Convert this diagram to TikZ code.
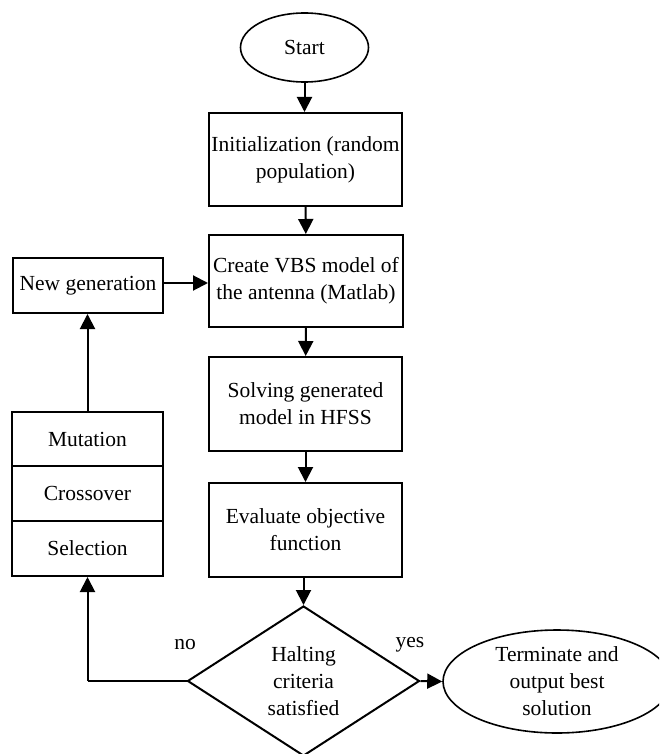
\documentclass[tikz,border=0pt]{standalone}
\usepackage{fontspec}
\setmainfont{Liberation Serif}
\usetikzlibrary{shapes.geometric,arrows.meta}
\begin{document}
\begin{tikzpicture}[x=1pt,y=1pt,
  every node/.style={font=\fontsize{21.5}{27}\selectfont, align=center, inner sep=0pt},
  box/.style={draw, line width=2pt, rectangle},
  ell/.style={draw, line width=1.6pt, ellipse},
  conn/.style={line width=2pt, -{Triangle[width=15pt,length=15pt]}},
  plain/.style={line width=2pt}]
\useasboundingbox (0,0) rectangle (659,-754);
\clip (0,0) rectangle (659,-754);
\node[ell, minimum width=128pt, minimum height=69pt] (start) at (304.5,-47.5) {Start};
\node[box, minimum width=193pt, minimum height=93pt] (init) at (305.5,-159.5) {Initialization (random\\population)};
\node[box, minimum width=194pt, minimum height=92pt] (create) at (306,-281) {Create VBS model of\\the antenna (Matlab)};
\node[box, minimum width=193pt, minimum height=94pt] (solve) at (305.5,-404) {Solving generated\\model in HFSS};
\node[box, minimum width=193pt, minimum height=94pt] (eval) at (305.5,-530) {Evaluate objective\\function};
\node[draw, line width=2pt, diamond, minimum width=232pt, minimum height=150pt] (halt) at (303.5,-681) {Halting\\criteria\\satisfied};
\node[ell, minimum width=228pt, minimum height=103pt] (term) at (557,-681.5) {Terminate and\\output best\\solution};
\node[box, minimum width=150pt, minimum height=55pt] (newgen) at (88,-285.5) {New generation};
\node[box, minimum width=151pt, minimum height=54pt] (mut) at (87.5,-439) {Mutation};
\node[box, minimum width=151pt, minimum height=55pt] (cross) at (87.5,-493.5) {Crossover};
\node[box, minimum width=151pt, minimum height=55pt] (sel) at (87.5,-548.5) {Selection};
\node (no) at (185,-645) {no};
\node (yes) at (410,-645) {yes};
\coordinate (corner) at (87.5,-681);
\draw[conn] (start.south) -- (start.south |- init.north);
\draw[conn] (init) -- (create);
\draw[conn] (create) -- (solve);
\draw[conn] (solve) -- (eval);
\draw[conn] (eval.south -| halt.north) -- (halt.north);
\draw[conn] (halt.east) -- (term.west);
\draw[plain] (halt.west) -- (corner);
\draw[conn] (corner) -- (sel.south);
\draw[conn] (mut.north) -- (newgen.south -| mut.north);
\draw[conn] (newgen.east |- 0,-283) -- (create.west |- 0,-283);
\end{tikzpicture}
\end{document}
